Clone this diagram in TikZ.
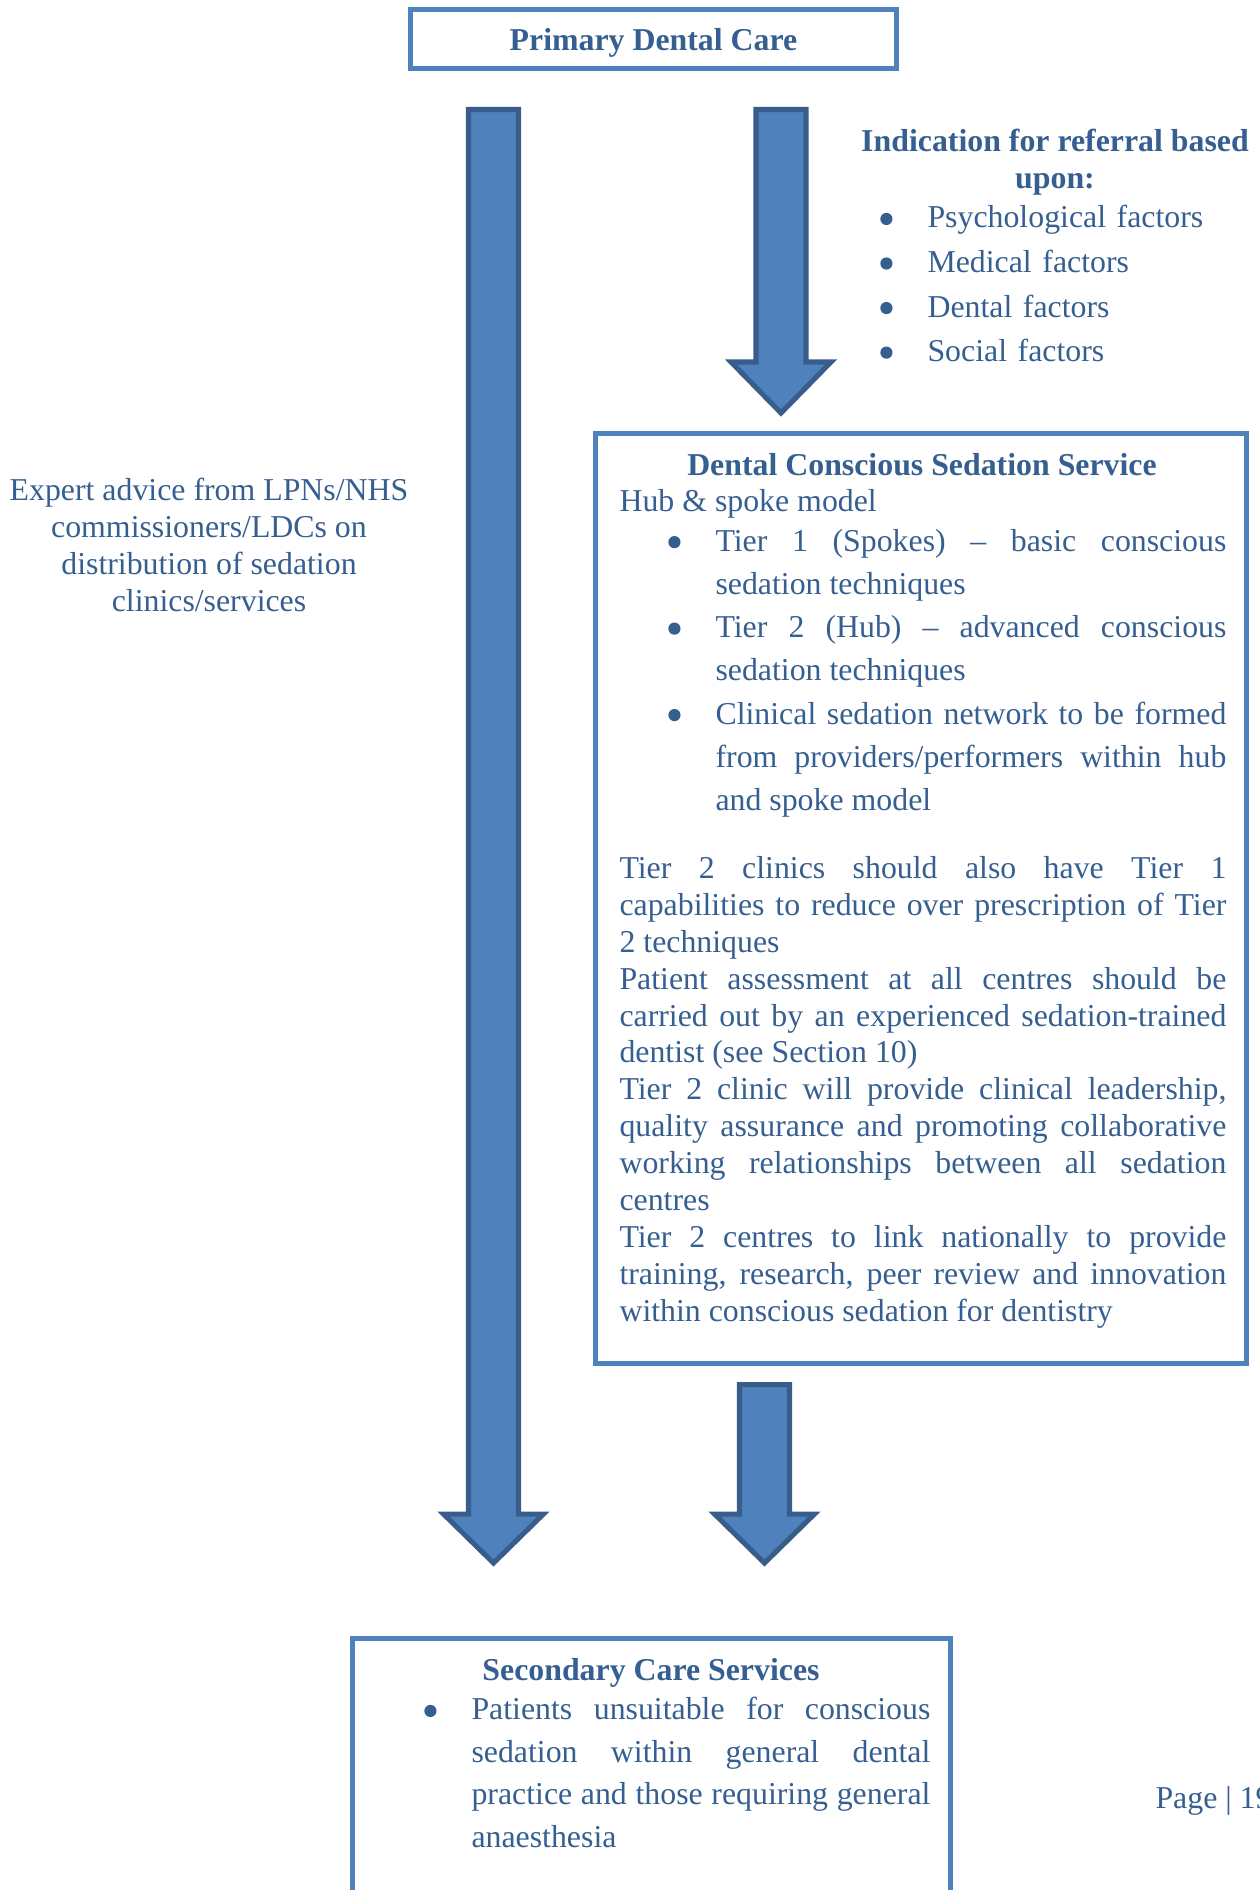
\documentclass[tikz,border=0pt]{standalone}
\usepackage{fontspec}
\setmainfont{Liberation Serif}
\usepackage{tikz}

\definecolor{textblue}{RGB}{54,95,145}
\definecolor{boxblue}{RGB}{79,129,189}
\definecolor{arrowedge}{RGB}{56,93,138}

\tikzset{
	box/.style={draw=boxblue, line width=1.9pt},
	bigarrow/.style={fill=boxblue, draw=arrowedge, line width=1.9pt},
	txt/.style={text=textblue, inner sep=0pt, font=\fontsize{12}{13.9}\selectfont},
	loose/.style={font=\fontsize{12}{16.3}\selectfont},
}

% round bullet hung out to the left of the text
\newcommand{\dotmark}{\tikz[baseline=-3.4pt]\fill[textblue] (0pt,0pt) circle (2.3pt);}
\newcommand{\bul}{\noindent\llap{\dotmark\hspace{13.2pt}}}
\newcommand{\bitem}[1]{\par{\leftskip=36.2pt\bul#1\par}}
% fat block arrow: centre x, top, head base, tip
\newcommand{\fatarrow}[4]{%
	\draw[bigarrow] (#1-25,#2) -- (#1+25,#2) -- (#1+25,#3) -- (#1+50,#3)
		-- (#1,#4) -- (#1-50,#3) -- (#1-25,#3) -- cycle;}

\begin{document}
\begin{tikzpicture}[x=0.377pt, y=-0.377pt]
	\path[use as bounding box] (0,0) rectangle (1260,1890);

	\node[box, txt, minimum width=183.2pt, minimum height=22.2pt, text depth=0pt]
		(primary) at (653.5,39) {\bfseries Primary Dental Care};

	\fatarrow{493.5}{109.5}{1514}{1563}
	\fatarrow{781}{109.5}{362}{413}
	\fatarrow{764.5}{1384.5}{1514}{1563}

	\node[txt, align=center, anchor=north] (advice) at (209,478)
		{Expert advice from LPNs/NHS\\ commissioners/LDCs on\\
		 distribution of sedation\\ clinics/services};

	\node[txt, align=center, anchor=north] (indhead) at (1055,129)
		{\bfseries Indication for referral based\\ \bfseries upon:};
	\node[txt, anchor=north west, text width=130pt, align=left,
		font=\fontsize{12}{16.8}\selectfont] (indlist) at (927,205)
		{\bul Psychological factors\par \bul Medical factors\par
		 \bul Dental factors\par \bul Social factors};

	\node[box, minimum width=245.4pt, minimum height=350.6pt] (dcss)
		at (921,898.5) {};
	\node[txt, anchor=north] (dcsshead) at (922,453)
		{\bfseries Dental Conscious Sedation Service};
	\node[txt, loose, anchor=north west, text width=228.8pt, align=justify]
		(dcsslist) at (619,489)
		{\noindent Hub \& spoke model\par\vskip-1.4pt
		 \bitem{Tier 1 (Spokes) -- basic conscious\linebreak sedation techniques}
		 \bitem{Tier 2 (Hub) -- advanced conscious\linebreak sedation techniques}
		 \bitem{Clinical sedation network to be formed\linebreak from
			providers/performers within hub\linebreak and spoke model}};
	\node[txt, anchor=north west, text width=228.8pt, align=justify]
		(dcssbody) at (619,856)
		{\noindent Tier 2 clinics should also have Tier 1\linebreak
		 capabilities to reduce over prescription of Tier\linebreak
		 2 techniques\par
		 \noindent Patient assessment at all centres should be\linebreak
		 carried out by an experienced sedation-trained\linebreak
		 dentist (see Section 10)\par
		 \noindent Tier 2 clinic will provide clinical leadership,\linebreak
		 quality assurance and promoting collaborative\linebreak
		 working relationships between all sedation\linebreak
		 centres\par
		 \noindent Tier 2 centres to link nationally to provide\linebreak
		 training, research, peer review and innovation\linebreak
		 within conscious sedation for dentistry};

	\node[box, minimum width=225.8pt, minimum height=117.4pt] (secondary)
		at (651.5,1794.25) {};
	\node[txt, anchor=north] (sechead) at (651,1658)
		{\bfseries Secondary Care Services};
	\node[txt, anchor=north west, text width=173pt, align=justify,
		font=\fontsize{12}{16}\selectfont] (seclist) at (471,1697)
		{\bul Patients unsuitable for conscious\linebreak sedation within
		 general dental\linebreak practice and those requiring
		 general\linebreak anaesthesia};

	\node[txt, anchor=west] (page) at (1155,1801) {Page | 19};
\end{tikzpicture}
\end{document}
